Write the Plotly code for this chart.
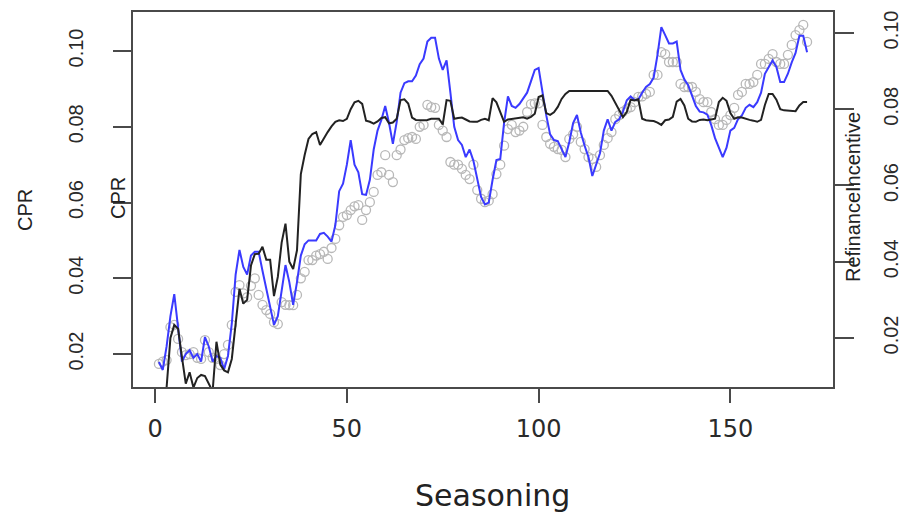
import plotly.graph_objects as go

seasoning = list(range(1, 171))

cpr_model = [
    0.0179, 0.0158, 0.022, 0.030, 0.0358, 0.027, 0.018, 0.020, 0.021, 0.019,
    0.020, 0.018, 0.0245, 0.022, 0.018, 0.0195, 0.019, 0.016, 0.0195, 0.028,
    0.041, 0.0475, 0.043, 0.041, 0.046, 0.047, 0.047, 0.042, 0.037, 0.032,
    0.0277, 0.030, 0.037, 0.0435, 0.039, 0.033, 0.039, 0.046, 0.049, 0.050,
    0.050, 0.050, 0.0517, 0.052, 0.051, 0.0497, 0.054, 0.063, 0.065, 0.070,
    0.0765, 0.070, 0.068, 0.0622, 0.062, 0.066, 0.074, 0.079, 0.0818, 0.0855,
    0.081, 0.0755, 0.0813, 0.089, 0.0915, 0.092, 0.092, 0.0935, 0.0965, 0.098,
    0.1025, 0.1035, 0.1035, 0.098, 0.095, 0.0975, 0.089, 0.080, 0.0765, 0.0752,
    0.072, 0.074, 0.071, 0.066, 0.0615, 0.0595, 0.060, 0.066, 0.0712, 0.0715,
    0.081, 0.088, 0.0855, 0.085, 0.086, 0.0875, 0.089, 0.092, 0.095, 0.0955,
    0.089, 0.083, 0.078, 0.0765, 0.0762, 0.074, 0.072, 0.076, 0.081, 0.0831,
    0.0785, 0.075, 0.072, 0.067, 0.070, 0.073, 0.079, 0.082, 0.079, 0.0813,
    0.082, 0.084, 0.087, 0.088, 0.0871, 0.0872, 0.089, 0.0905, 0.0913, 0.093,
    0.099, 0.1063, 0.1042, 0.102, 0.102, 0.1025, 0.095, 0.0925, 0.091, 0.0885,
    0.0855, 0.084, 0.0838, 0.0832, 0.0805, 0.077, 0.0745, 0.072, 0.0745, 0.079,
    0.0797, 0.082, 0.083, 0.085, 0.0858, 0.0852, 0.0865, 0.089, 0.094, 0.0958,
    0.0975, 0.0958, 0.0918, 0.0918, 0.094, 0.097, 0.0995, 0.104, 0.104, 0.0997,
]

refi_incentive = [
    0.005, 0.005, 0.007, 0.020, 0.0234, 0.0224, 0.015, 0.008, 0.011, 0.007,
    0.0095, 0.0103, 0.010, 0.008, 0.006, 0.019, 0.013, 0.0115, 0.011, 0.0145,
    0.024, 0.0329, 0.029, 0.030, 0.039, 0.042, 0.0421, 0.0439, 0.0405, 0.0405,
    0.031, 0.036, 0.045, 0.050, 0.040, 0.0381, 0.043, 0.063, 0.068, 0.0722,
    0.0735, 0.074, 0.0706, 0.0725, 0.074, 0.0755, 0.0767, 0.0771, 0.0769, 0.0775,
    0.080, 0.0818, 0.0822, 0.0814, 0.077, 0.0767, 0.0762, 0.0768, 0.0777, 0.0779,
    0.0763, 0.0765, 0.0775, 0.0824, 0.0826, 0.0815, 0.0778, 0.0772, 0.0771, 0.0771,
    0.0772, 0.0775, 0.0775, 0.0775, 0.076, 0.0824, 0.0822, 0.0775, 0.0777, 0.0778,
    0.0773, 0.0768, 0.0767, 0.0767, 0.0772, 0.0775, 0.0771, 0.0829, 0.0818, 0.079,
    0.0767, 0.0773, 0.0775, 0.0775, 0.0778, 0.0779, 0.0775, 0.078, 0.0788, 0.0832,
    0.0836, 0.079, 0.0785, 0.0792, 0.0806, 0.0827, 0.084, 0.0848, 0.0848, 0.0848,
    0.0848, 0.0848, 0.0848, 0.0848, 0.0848, 0.0848, 0.0848, 0.0848, 0.0835, 0.0815,
    0.0795, 0.0779, 0.0793, 0.0825, 0.0823, 0.0826, 0.0775, 0.0771, 0.077, 0.0769,
    0.0765, 0.0759, 0.0771, 0.0773, 0.078, 0.082, 0.0827, 0.081, 0.0775, 0.0768,
    0.0767, 0.0772, 0.0773, 0.0771, 0.0773, 0.0775, 0.0819, 0.083, 0.0822, 0.079,
    0.0775, 0.0779, 0.0778, 0.0776, 0.0772, 0.077, 0.0767, 0.0772, 0.0811, 0.084,
    0.084, 0.0825, 0.080, 0.0797, 0.0796, 0.0795, 0.0795, 0.081, 0.0819, 0.0819,
]

cpr_actual = [
    0.0174, 0.018, 0.0184, 0.0271, 0.0277, 0.024, 0.0205, 0.0197, 0.020, 0.0205,
    0.019, 0.0187, 0.0237, 0.0205, 0.019, 0.0187, 0.0171, 0.020, 0.0224, 0.0277,
    0.0364, 0.0382, 0.036, 0.035, 0.038, 0.040, 0.0356, 0.033, 0.0316, 0.0306,
    0.0284, 0.0279, 0.0337, 0.033, 0.0329, 0.0329, 0.0356, 0.040, 0.0417, 0.0448,
    0.0448, 0.046, 0.0464, 0.047, 0.0451, 0.048, 0.0504, 0.054, 0.0562, 0.0567,
    0.058, 0.059, 0.0593, 0.0554, 0.058, 0.0601, 0.0628, 0.0673, 0.068, 0.0725,
    0.0673, 0.0654, 0.0725, 0.074, 0.0765, 0.077, 0.0773, 0.0768, 0.080, 0.0805,
    0.0858, 0.0852, 0.085, 0.0805, 0.079, 0.0773, 0.0707, 0.070, 0.070, 0.0689,
    0.0673, 0.0662, 0.070, 0.0633, 0.061, 0.0601, 0.0605, 0.0622, 0.0675, 0.070,
    0.075, 0.0794, 0.0805, 0.0786, 0.079, 0.080, 0.0839, 0.086, 0.0862, 0.0862,
    0.0805, 0.0773, 0.0755, 0.0747, 0.0741, 0.0739, 0.072, 0.0768, 0.078, 0.080,
    0.076, 0.0741, 0.072, 0.0715, 0.0694, 0.0725, 0.0752, 0.077, 0.0786, 0.082,
    0.0831, 0.084, 0.0847, 0.0852, 0.0865, 0.0879, 0.088, 0.0887, 0.0892, 0.0937,
    0.0937, 0.0997, 0.0992, 0.0971, 0.0971, 0.0971, 0.0913, 0.0905, 0.0905, 0.0905,
    0.0892, 0.0873, 0.0865, 0.0865, 0.0839, 0.082, 0.0805, 0.0805, 0.0818, 0.0831,
    0.085, 0.0884, 0.0892, 0.0913, 0.0913, 0.0918, 0.0937, 0.0966, 0.0966, 0.0979,
    0.0992, 0.0971, 0.0966, 0.0966, 0.099, 0.1016, 0.1042, 0.1055, 0.1069, 0.1024,
]

x_ticks = [0, 50, 100, 150]
y_ticks = [0.02, 0.04, 0.06, 0.08, 0.10]
y_ticktext = ["0.02", "0.04", "0.06", "0.08", "0.10"]

AX = "#4a4a4a"
TXT = "#2a2a2a"

fig = go.Figure()
fig.add_trace(go.Scatter(
    x=seasoning, y=cpr_actual, mode="markers", name="CPR",
    marker=dict(symbol="circle-open", size=9, color="#b8b8b8", line=dict(width=1.3)),
    yaxis="y", showlegend=False))
fig.add_trace(go.Scatter(
    x=seasoning, y=refi_incentive, mode="lines", name="RefinanceIncentive",
    line=dict(color="#222222", width=2), yaxis="y2", showlegend=False))
fig.add_trace(go.Scatter(
    x=seasoning, y=cpr_model, mode="lines", name="CPR model",
    line=dict(color="#3a3aff", width=2), yaxis="y", showlegend=False))

fig.update_layout(
    width=909, height=512,
    margin=dict(l=133, r=76, t=12, b=125, autoexpand=False),
    paper_bgcolor="white", plot_bgcolor="white",
    font=dict(family="Liberation Sans, Arial", color=TXT),
    xaxis=dict(range=[-5.76, 176.76], tickvals=x_ticks, ticks="outside", ticklen=14,
               tickwidth=2, tickcolor=AX, showline=True, linecolor=AX, linewidth=2,
               mirror=True, showgrid=False, zeroline=False, automargin=False,
               tickfont=dict(family="DejaVu Sans", size=24, color=TXT),
               ticklabelstandoff=5),
    yaxis=dict(range=[0.0113, 0.1103], tickvals=y_ticks, ticktext=y_ticktext,
               ticks="outside", ticklen=18, tickwidth=2, tickcolor=AX,
               showline=True, linecolor=AX, linewidth=2, mirror=True,
               showgrid=False, zeroline=False, tickangle=-90, automargin=False,
               tickfont=dict(size=20, color=TXT), ticklabelstandoff=22),
    yaxis2=dict(range=[0.00714, 0.1055], tickvals=y_ticks, ticktext=y_ticktext,
                overlaying="y", side="right", ticks="outside", ticklen=20,
                tickwidth=2, tickcolor=AX, showline=False, showgrid=False,
                zeroline=False, tickangle=-90, automargin=False,
                tickfont=dict(size=20, color=TXT), ticklabelstandoff=20),
    annotations=[
        dict(text="CPR", xref="paper", yref="paper", x=(25 - 133) / 700, y=(387 - 210) / 375,
             showarrow=False, textangle=-90, font=dict(size=20, color="#222"),
             xanchor="center", yanchor="middle"),
        dict(text="CPR", xref="paper", yref="paper", x=(118 - 133) / 700, y=(387 - 198) / 375,
             showarrow=False, textangle=-90, font=dict(size=20, color="#222"),
             xanchor="center", yanchor="middle"),
        dict(text="RefinanceIncentive", xref="paper", yref="paper", x=(853 - 133) / 700,
             y=(387 - 197) / 375, showarrow=False, textangle=-90,
             font=dict(size=20, color="#222"), xanchor="center", yanchor="middle"),
        dict(text="Seasoning", xref="paper", yref="paper", x=(493 - 133) / 700,
             y=(387 - 495) / 375, showarrow=False,
             font=dict(family="DejaVu Sans", size=30, color="#222"),
             xanchor="center", yanchor="middle"),
    ],
)

fig.write_html("out.html")
